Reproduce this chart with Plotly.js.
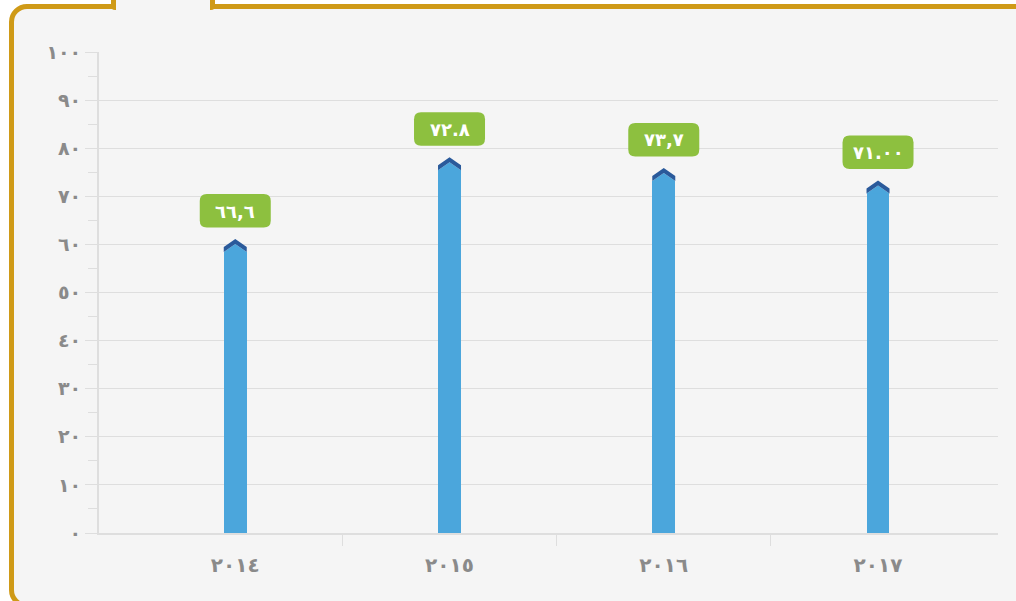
<!DOCTYPE html>
<html>
<head>
<meta charset="utf-8">
<script src="https://cdn.plot.ly/plotly-3.0.1.min.js"></script>
<style>
  html, body { margin: 0; padding: 0; background: #ffffff; width: 1016px; height: 601px; overflow: hidden; }
  #frame { position: absolute; left: 9px; top: 4px; width: 1100px; height: 594px; border: 5px solid #CF9A17; border-radius: 18px; background: #f5f5f5; box-sizing: content-box; }
  #tab { position: absolute; left: 111px; top: -12px; width: 94px; height: 22px; border-left: 5px solid #CF9A17; border-right: 5px solid #CF9A17; border-bottom: none; background: #f5f5f5; border-radius: 0 0 4px 4px; }
  #chart { position: absolute; left: 0; top: 0; width: 1016px; height: 601px; }
</style>
</head>
<body>
<div id="frame"></div>
<div id="tab"></div>
<div id="chart"></div>
<script>
// ---- data ----
const categories = ["٢٠١٤", "٢٠١٥", "٢٠١٦", "٢٠١٧"];
const values = [58.4, 75.4, 73.2, 70.6];
const valueLabels = ["٦٦,٦", "٧٢.٨", "٧٣,٧", "٧١.٠٠"];
const yTickVals = [0, 10, 20, 30, 40, 50, 60, 70, 80, 90, 100];
const yTickText = ["٠", "١٠", "٢٠", "٣٠", "٤٠", "٥٠", "٦٠", "٧٠", "٨٠", "٩٠", "١٠٠"];

// ---- styling ----
const BAR = "#4BA6DC";
const DARK = "#2A5A9B";
const GREEN = "#8DC03F";
const GRID = "#dedede";
const TXT = "#8a8a8a";
const FONT = "DejaVu Sans, sans-serif";

const idx = categories.map((c, i) => i);
const boundaries = idx.slice(1).map(i => i - 0.5);

const trace = {
  type: "bar",
  x: idx,
  y: values,
  width: 0.107,
  marker: { color: BAR, line: { width: 0 } },
  hoverinfo: "none"
};

// pointed caps + label boxes (pixel-sized, anchored at data points)
const shapes = [];
const annotations = [];
const hw = 11.5;
function roundRect(x0, x1, y0, y1, r) {
  return `M ${x0 + r} ${y0} L ${x1 - r} ${y0} Q ${x1} ${y0} ${x1} ${y0 + r} L ${x1} ${y1 - r} Q ${x1} ${y1} ${x1 - r} ${y1} L ${x0 + r} ${y1} Q ${x0} ${y1} ${x0} ${y1 - r} L ${x0} ${y0 + r} Q ${x0} ${y0} ${x0 + r} ${y0} Z`;
}
idx.forEach((i) => {
  const v = values[i];
  const common = { type: "path", xref: "x", yref: "y", xsizemode: "pixel", ysizemode: "pixel", xanchor: i, yanchor: v, layer: "above", line: { width: 0 } };
  shapes.push(Object.assign({}, common, { path: `M ${-hw} 0 L 0 8 L ${hw} 0 Z`, fillcolor: BAR }));
  shapes.push(Object.assign({}, common, { path: `M ${-hw} 0 L 0 8 L ${hw} 0 L ${hw} 5 L 0 13 L ${-hw} 5 Z`, fillcolor: DARK }));
  shapes.push(Object.assign({}, common, { path: roundRect(-35.5, 35.5, 24.5, 58, 7), fillcolor: GREEN }));
  annotations.push({
    x: i, y: v, xref: "x", yref: "y", yshift: 41, showarrow: false,
    text: "<b>" + valueLabels[i] + "</b>",
    font: { family: FONT, size: 18, color: "#ffffff" },
    xanchor: "center", yanchor: "middle"
  });
});

const xr = [-0.636, 3.56];

const layout = {
  width: 1016, height: 601,
  paper_bgcolor: "rgba(0,0,0,0)",
  plot_bgcolor: "rgba(0,0,0,0)",
  margin: { l: 99, r: 18, t: 52, b: 68 },
  showlegend: false,
  bargap: 0,
  font: { family: FONT, color: TXT },
  xaxis: {
    type: "linear", range: xr, fixedrange: true,
    tickvals: idx, ticktext: categories,
    ticks: "", showgrid: false, zeroline: false,
    showline: true, linecolor: GRID, linewidth: 2,
    tickfont: { family: FONT, size: 20, color: TXT, weight: "bold" },
    ticklabelstandoff: 13
  },
  xaxis2: {
    type: "linear", range: xr, overlaying: "x", matches: "x", side: "bottom",
    tickvals: boundaries, showticklabels: false,
    ticks: "outside", ticklen: 12, tickwidth: 1, tickcolor: GRID,
    showgrid: false, zeroline: false, showline: false
  },
  yaxis: {
    range: [0, 100], fixedrange: true,
    tickvals: yTickVals, ticktext: yTickText,
    ticks: "outside", ticklen: 12, tickwidth: 1, tickcolor: GRID,
    showgrid: true, gridcolor: GRID, gridwidth: 1,
    zeroline: false, showline: true, linecolor: GRID, linewidth: 2,
    tickfont: { family: FONT, size: 19, color: TXT, weight: "bold" },
    minor: { tick0: 5, dtick: 10, ticks: "outside", ticklen: 9, tickcolor: GRID, tickwidth: 1, showgrid: false }
  },
  shapes: shapes,
  annotations: annotations
};

const ghost = { type: "scatter", x: [], y: [], xaxis: "x2", yaxis: "y", hoverinfo: "none" };

Plotly.newPlot("chart", [trace, ghost], layout, { displayModeBar: false, staticPlot: true });
</script>
</body>
</html>
